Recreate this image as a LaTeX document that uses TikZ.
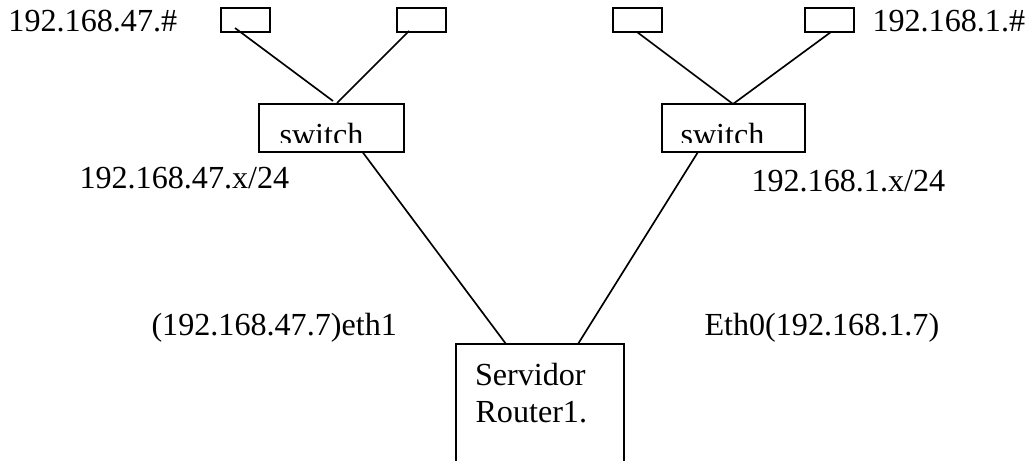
\documentclass[tikz,border=0pt]{standalone}
\usepackage{fontspec}
\setmainfont{Liberation Serif}
\begin{document}
\begin{tikzpicture}[x=0.75pt,y=-0.75pt,line width=1.25pt,
  box/.style={draw,rectangle,inner sep=0pt,outer sep=0pt},
  pcbox/.style={box,minimum width=49*0.75pt,minimum height=24*0.75pt},
  txt/.style={anchor=base west,inner sep=0pt,outer sep=0pt,font=\fontsize{24.1}{28}\selectfont}]
\useasboundingbox (0,0) rectangle (1030,460);
\begin{scope}
\clip (0,0) rectangle (1030,460);
% PCs
\node[pcbox] (pc1) at (245.5,20) {};
\node[pcbox] (pc2) at (421.5,20) {};
\node[pcbox] (pc3) at (637.5,20) {};
\node[pcbox] (pc4) at (829.5,20) {};
% switches
\node[box,minimum width=145*0.75pt,minimum height=48*0.75pt] (sw1) at (331.5,128) {};
\node[box,minimum width=143*0.75pt,minimum height=48*0.75pt] (sw2) at (733.5,128) {};
% router
\node[box,minimum width=168*0.75pt,minimum height=136*0.75pt] (rt) at (540,412) {};
% connectors
\draw ([shift={(-10.5,-4)}]pc1.south) -- ([shift={(1.5,-3)}]sw1.north);
\draw ([shift={(-12.5,-1)}]pc2.south) -- ([shift={(5.5,-1)}]sw1.north);
\draw ([shift={(-0.5,0)}]pc3.south) -- ([shift={(-0.5,0)}]sw2.north);
\draw ([shift={(1.5,0)}]pc4.south) -- ([shift={(-0.5,0)}]sw2.north);
\draw ([shift={(31,0)}]sw1.south) -- ([shift={(-34,0)}]rt.north);
\draw ([shift={(-35.5,0)}]sw2.south) -- ([shift={(38,0)}]rt.north);
% switch labels (clipped like the original text boxes)
\begin{scope}
\clip (259,104) rectangle (805,142);
\node[txt] (sw1t) at (279.5,145) {switch};
\node[txt] (sw2t) at (680.5,145) {switch};
\end{scope}
% texts
\node[txt] (n47h) at (8.5,32) {192.168.47.\#};
\node[txt] (n1h) at (872.5,32) {192.168.1.\#};
\node[txt] (n47) at (79.5,188) {192.168.47.x/24};
\node[txt] (n1) at (751.5,191) {192.168.1.x/24};
\node[txt] (e1) at (151.5,335) {(192.168.47.7)eth1};
\node[txt] (e0) at (704.5,335) {Eth0(192.168.1.7)};
\node[txt] (srv) at (475,385) {Servidor};
\node[txt] (rtr) at (475.5,422) {Router1.};
\end{scope}
\end{tikzpicture}
\end{document}
